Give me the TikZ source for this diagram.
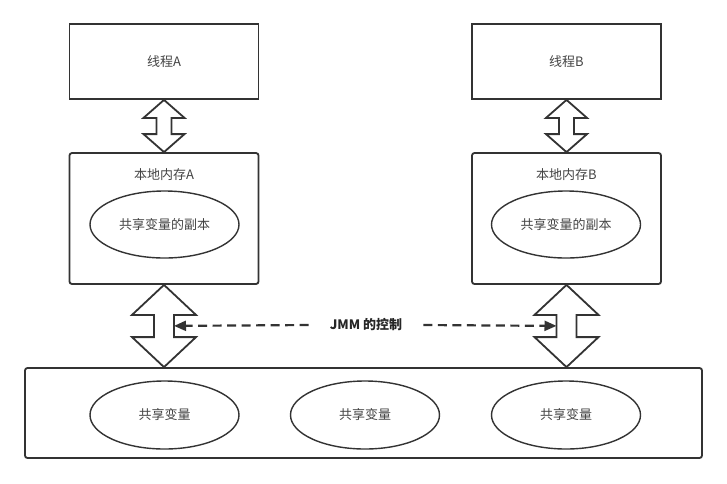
\documentclass[tikz,border=0pt]{standalone}
\usepackage{fontspec}
\setmainfont{Noto Sans CJK SC}
\usetikzlibrary{arrows.meta, calc, shapes.geometric}

\definecolor{inkgray}{HTML}{333333}
\definecolor{txtgray}{HTML}{444444}

% fat double arrow between two stacked nodes: #1 top, #2 bottom, #3 half head, #4 half shaft, #5 head length
\newcommand{\fatarrow}[5]{%
  \draw[fat] (#1.south) -- ++(#3,#5) -- ++(-#3+#4,0) -- ($(#1.south |- #2.north)+(#4,-#5)$)
    -- ++(#3-#4,0) -- (#1.south |- #2.north) -- ++(-#3,-#5) -- ++(#3-#4,0)
    -- ($(#1.south)+(-#4,#5)$) -- ++(-#3+#4,0) -- cycle;}

\begin{document}
\begin{tikzpicture}[
    x=1pt, y=-1pt,
    font=\fontsize{13pt}{15pt}\selectfont,
    box/.style={draw=inkgray, line width=1.8pt, fill=white, text=txtgray},
    thread/.style={box, minimum width=189pt, minimum height=75pt},
    mem/.style={box, rounded corners=2.5pt, minimum width=189pt, minimum height=131pt},
    shared/.style={box, rounded corners=2.5pt, minimum width=677pt, minimum height=90pt},
    var/.style={ellipse, draw=inkgray, line width=1.4pt, fill=white, text=txtgray,
      minimum width=149pt, minimum height=67pt, inner sep=0pt},
    title/.style={text=txtgray, inner sep=0pt},
    fat/.style={draw=inkgray, line width=1.8pt, fill=white, line join=miter},
    ctl/.style={-{Triangle[length=12pt, width=10pt]}, draw=inkgray, line width=2.2pt,
      dash pattern=on 9pt off 5.5pt},
]
\useasboundingbox (0,0) rectangle (727,483);

% ============ threads ============
\node[thread] (threadA) at (164,61.5) {线程A};
\node[thread] (threadB) at (566.5,61.5) {线程B};

% ============ local memories ============
\node[mem] (memA) at (164,218.5) {};
\node[title] (titleA) at (164,175) {本地内存A};
\node[var] (copyA) at (164.5,224.5) {共享变量的副本};

\node[mem] (memB) at (566.5,218.5) {};
\node[title] (titleB) at (566.5,175) {本地内存B};
\node[var] (copyB) at (566,224.5) {共享变量的副本};

% ============ main memory ============
\node[shared] (main) at (363.5,413) {};
\node[var, minimum height=68pt] (var1) at (164.5,415) {共享变量};
\node[var, minimum height=68pt] (var2) at (365,415) {共享变量};
\node[var, minimum height=68pt] (var3) at (566,415) {共享变量};

% ============ exchange arrows ============
\fatarrow{threadA}{memA}{20.5}{7.5}{18}
\fatarrow{threadB}{memB}{20.5}{7.5}{18}
\fatarrow{memA}{main}{32}{10}{30}
\fatarrow{memB}{main}{32}{10}{30}

% ============ JMM control ============
\node[font=\fontsize{13pt}{15pt}\selectfont\bfseries, text=black!85, inner xsep=21pt, inner ysep=0pt] (jmm) at (366,325) {JMM 的控制};
\coordinate (ctlA) at ($(memA.south)+(10,41)$);
\coordinate (ctlB) at ($(memB.south)+(-10,41)$);
\draw[ctl] (jmm.west) -- (ctlA);
\draw[ctl] (jmm.east) -- (ctlB);

\end{tikzpicture}
\end{document}
